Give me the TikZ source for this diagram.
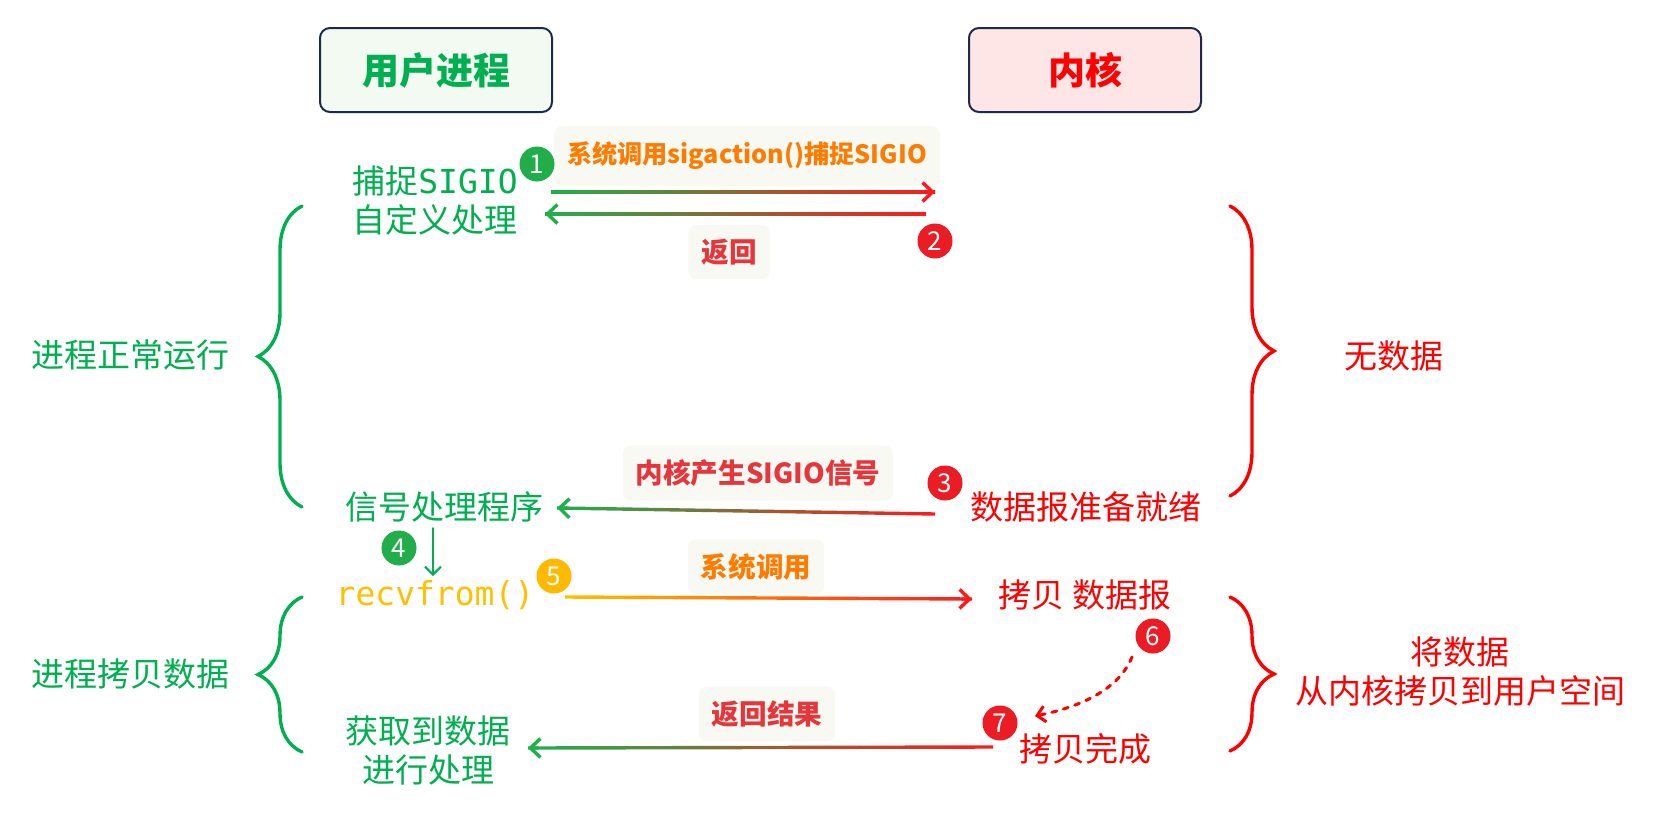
\documentclass[tikz,border=0pt]{standalone}
\usepackage{fontspec}
\setmainfont{Noto Sans CJK SC}
\setmonofont{DejaVu Sans Mono}
\usetikzlibrary{arrows.meta,calc,decorations.pathreplacing}
\definecolor{ugreen}{HTML}{00B050}
\definecolor{cgreen}{HTML}{22AD4B}
\definecolor{kred}{HTML}{FF0000}
\definecolor{cred}{HTML}{EC1C24}
\definecolor{lred}{HTML}{E8343B}
\definecolor{lorange}{HTML}{FF7B00}
\definecolor{amber}{HTML}{FFC000}
\definecolor{camber}{HTML}{FFB900}
\definecolor{navy}{HTML}{1C2B4B}
\definecolor{hgreen}{HTML}{F3FAF1}
\definecolor{hpink}{HTML}{FFE6E6}
\definecolor{lblbg}{HTML}{F7F9F2}
\definecolor{agreen}{HTML}{1FB04C}
\definecolor{ared}{HTML}{FF1A1A}
\definecolor{aorange}{HTML}{FF7A00}
\tikzset{
  header/.style={draw=navy, line width=1pt, rounded corners=5pt, minimum width=116pt, minimum height=42pt, font=\fontsize{18.5}{22}\selectfont\bfseries},
  utext/.style={text=ugreen, font=\fontsize{16.5}{19.5}\selectfont, align=center},
  ktext/.style={text=kred, font=\fontsize{16.5}{19.5}\selectfont, align=center},
  badge/.style={circle, inner sep=0pt, minimum size=17.5pt, text=white, font=\fontsize{13}{13}\selectfont},
  lbl/.style={fill=lblbg, rounded corners=4pt, inner xsep=6.5pt, inner ysep=7pt, font=\fontsize{13.8}{16}\selectfont\bfseries},
  curly/.style={decorate, decoration={brace, amplitude=22pt}, line width=1.7pt, line cap=round},
  tipline/.style={line width=1.7pt, line cap=round, line join=round, -{Straight Barb[length=5pt,width=9.5pt]}}
}
% gradient arrow: #1 start, #2 end, #3 shading options, #4 tip colour
\newcommand{\garrow}[4]{%
  \shade[#3] ($(#1)!0.85pt!90:(#2)$) -- ($(#2)!0.85pt!-90:(#1)$) -- ($(#2)!0.85pt!90:(#1)$) -- ($(#1)!0.85pt!-90:(#2)$) -- cycle;
  \draw[#4, tipline] ($(#2)!5pt!(#1)$) -- (#2);
}
\begin{document}
\begin{tikzpicture}[x=0.5pt,y=-0.5pt]
\useasboundingbox (0,0) rectangle (1656,820);
% headers
\node[header, fill=hgreen, text=ugreen] (hu) at (436,70) {用户进程};
\node[header, fill=hpink, text=kred] (hk) at (1085,70) {内核};
% step 1/2
\node[utext] (catch) at (435,201) {捕捉\texttt{SIGIO}\\自定义处理};
\node[lbl, text=lorange, font=\fontsize{12.6}{15}\selectfont\bfseries, inner ysep=8pt] (l1) at (747,156) {系统调用sigaction()捕捉SIGIO};
\node[badge, fill=cgreen] (n1) at (537,164) {1};
\coordinate (a1s) at (551,192);
\coordinate (a1e) at (935,192);
\garrow{a1s}{a1e}{left color=agreen, right color=ared}{ared}
\coordinate (a2s) at (926,214);
\coordinate (a2e) at (545,214);
\garrow{a2s}{a2e}{left color=agreen, right color=ared}{agreen}
\node[badge, fill=cred] (n2) at (935,241) {2};
\node[lbl, text=lred] (l2) at (729,252) {返回};
% braces top
\node[utext] (run) at (131,355) {进程正常运行};
\coordinate (bl1b) at (302,507);
\coordinate (bl1t) at (302,206);
\draw[curly, ugreen] (bl1b) -- (bl1t);
\coordinate (br1t) at (1230,206);
\coordinate (br1b) at (1230,496);
\draw[curly, kred] (br1t) -- (br1b);
\node[ktext] (nodata) at (1394,356) {无数据};
% step 3
\node[utext] (sig) at (444,507) {信号处理程序};
\node[ktext] (ready) at (1086,507) {数据报准备就绪};
\coordinate (a3s) at (935,514);
\coordinate (a3e) at (557,508);
\garrow{a3s}{a3e}{left color=agreen, right color=ared}{agreen}
\node[lbl, text=lred] (l3) at (758,473) {内核产生SIGIO信号};
\node[badge, fill=cred] (n3) at (945,483) {3};
% step 4
\node[text=amber, font=\fontsize{16.5}{19.5}\ttfamily] (recv) at (435,595) {recvfrom()};
\coordinate (a4s) at (433,528);
\coordinate (a4e) at (433,576);
\draw[ugreen, line width=1pt, line cap=round, -{Straight Barb[length=4pt,width=8pt]}] (a4s) -- (a4e);
\node[badge, fill=cgreen] (n4) at (399,548) {4};
% step 5
\coordinate (a5s) at (565,597);
\coordinate (a5e) at (972,599);
\garrow{a5s}{a5e}{left color=amber, middle color=aorange, right color=ared}{ared}
\node[lbl, text=lorange] (l5) at (756,567) {系统调用};
\node[badge, fill=camber] (n5) at (554,576) {5};
\node[ktext] (copy) at (1085,595) {拷贝 数据报};
% step 6
\node[badge, fill=cred] (n6) at (1153,636) {6};
\coordinate (d6s) at (1132,657);
\coordinate (d6e) at (1035,716);
\draw[kred, line width=1.5pt, line cap=round, dash pattern=on 2.5pt off 3.5pt, -{Straight Barb[length=4pt,width=8pt]}] (d6s) .. controls (1118,692) and (1075,708) .. (d6e);
% step 7
\node[ktext] (done) at (1085,749) {拷贝完成};
\coordinate (a7s) at (993,747);
\coordinate (a7e) at (528,748);
\garrow{a7s}{a7e}{left color=agreen, right color=ared}{agreen}
\node[lbl, text=lred] (l7) at (767,714) {返回结果};
\node[badge, fill=cred] (n7) at (1000,723) {7};
\node[utext] (got) at (428,750) {获取到数据\\进行处理};
% braces bottom
\node[utext] (runcp) at (131,674) {进程拷贝数据};
\coordinate (bl2b) at (302,752);
\coordinate (bl2t) at (302,597);
\draw[curly, ugreen] (bl2b) -- (bl2t);
\coordinate (br2t) at (1230,597);
\coordinate (br2b) at (1230,751);
\draw[curly, kred] (br2t) -- (br2b);
\node[ktext] (move) at (1460,672) {将数据\\从内核拷贝到用户空间};
\end{tikzpicture}
\end{document}
